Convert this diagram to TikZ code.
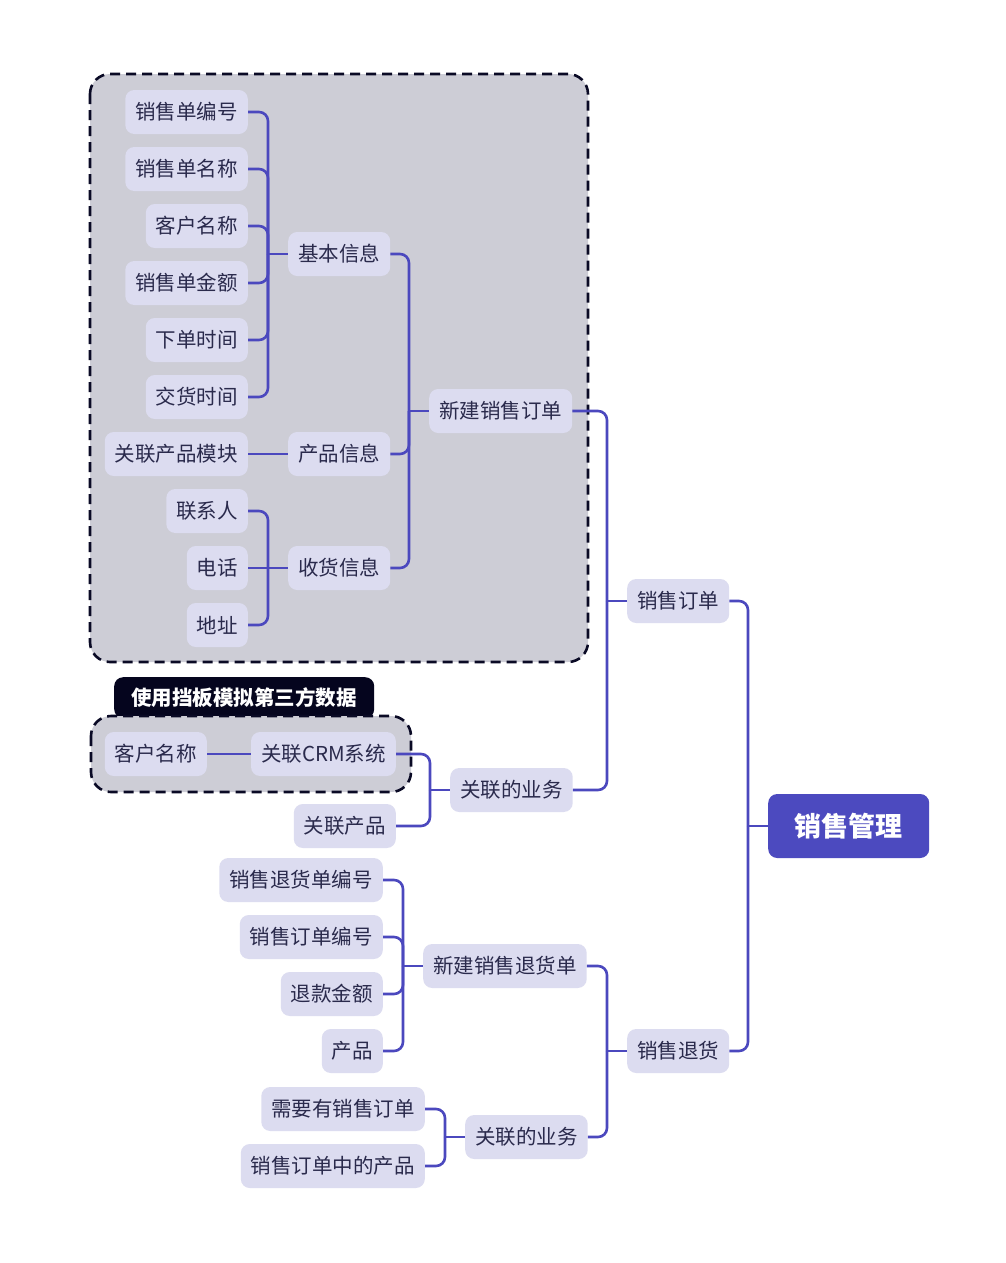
\documentclass[tikz,border=0pt]{standalone}
\usepackage{fontspec}
\setmainfont{Noto Sans CJK SC}
\usetikzlibrary{calc}
\definecolor{lnk}{HTML}{4B48BE}
\definecolor{nodefill}{HTML}{DCDCF0}
\definecolor{txt}{HTML}{2A2A4C}
\definecolor{grpfill}{HTML}{CDCDD6}
\definecolor{dashc}{HTML}{0A0A25}
\definecolor{rootfill}{HTML}{4C4ABF}
\definecolor{tagfill}{HTML}{05051E}
\tikzset{
  leaf/.style={fill=nodefill, rounded corners=9, minimum height=44, inner xsep=10, inner ysep=0, text=txt, font=\fontsize{20.5}{24}\selectfont},
  link/.style={draw=lnk, line width=2.6, rounded corners=9},
  straight/.style={draw=lnk, line width=2.6},
  grp/.style={fill=grpfill, draw=dashc, line width=2.6, dash pattern=on 10 off 6, rounded corners=20},
  rootbox/.style={fill=rootfill, rounded corners=9, minimum height=64, minimum width=161, text=white, font=\fontsize{27}{30}\selectfont\bfseries},
  tagbox/.style={fill=tagfill, rounded corners=9, minimum height=41, inner xsep=14, inner ysep=0, text=white, font=\fontsize{20.5}{24}\selectfont\bfseries}
}
\begin{document}
\begin{tikzpicture}[x=1pt,y=-1pt]
\useasboundingbox[fill=white] (0,0) rectangle (1005,1263);
% group boxes
\path[grp] (90,74) rectangle (588,662);
\node[tagbox, anchor=north west, minimum width=260] (tag) at (114,677) {使用挡板模拟第三方数据};
\path[grp] (91,716) rectangle (411,792);
% root
\node[rootbox, anchor=west] (root) at (768,826) {销售管理};
% level 1
\node[leaf, anchor=west] (xsdd) at (627,601) {销售订单};
\node[leaf, anchor=west] (xsth) at (627,1051) {销售退货};
% level 2
\node[leaf, anchor=west] (xjdd) at (429,411) {新建销售订单};
\node[leaf, anchor=west] (glyw1) at (450,790) {关联的业务};
\node[leaf, anchor=west] (xjth) at (423,966) {新建销售退货单};
\node[leaf, anchor=west] (glyw2) at (465,1137) {关联的业务};
% level 3 under 新建销售订单
\node[leaf, anchor=west] (jbxx) at (288,254) {基本信息};
\node[leaf, anchor=west] (cpxx) at (288,454) {产品信息};
\node[leaf, anchor=west] (shxx) at (288,568) {收货信息};
% leaves of 基本信息
\node[leaf, anchor=east] (a1) at (248,112) {销售单编号};
\node[leaf, anchor=east] (a2) at (248,169) {销售单名称};
\node[leaf, anchor=east] (a3) at (248,226) {客户名称};
\node[leaf, anchor=east] (a4) at (248,283) {销售单金额};
\node[leaf, anchor=east] (a5) at (248,340) {下单时间};
\node[leaf, anchor=east] (a6) at (248,397) {交货时间};
\node[leaf, anchor=east] (b1) at (248,454) {关联产品模块};
\node[leaf, anchor=east] (c1) at (248,511) {联系人};
\node[leaf, anchor=east] (c2) at (248,568) {电话};
\node[leaf, anchor=east] (c3) at (248,625) {地址};
% under 关联的业务 1
\node[leaf, anchor=east] (crm) at (396,754) {关联CRM系统};
\node[leaf, anchor=east] (khmc) at (207,754) {客户名称};
\node[leaf, anchor=east] (glcp) at (396,826) {关联产品};
% under 新建销售退货单
\node[leaf, anchor=east] (d1) at (383,880) {销售退货单编号};
\node[leaf, anchor=east] (d2) at (383,937) {销售订单编号};
\node[leaf, anchor=east] (d3) at (383,994) {退款金额};
\node[leaf, anchor=east] (d4) at (383,1051) {产品};
% under 关联的业务 2
\node[leaf, anchor=east] (e1) at (425,1109) {需要有销售订单};
\node[leaf, anchor=east] (e2) at (425,1166) {销售订单中的产品};
% bus coordinates
\foreach \p in {root,xsdd,xsth,xjdd,glyw1,xjth,glyw2,jbxx,shxx}{
  \coordinate (\p-bus) at ($(\p.west)+(-20,0)$);
  \draw[straight] (\p-bus) -- (\p.west);
}
% links with bends
\foreach \c/\p in {xsdd/root,xsth/root,xjdd/xsdd,glyw1/xsdd,xjth/xsth,glyw2/xsth,
  jbxx/xjdd,cpxx/xjdd,shxx/xjdd,a1/jbxx,a2/jbxx,a3/jbxx,a4/jbxx,a5/jbxx,a6/jbxx,
  c1/shxx,c3/shxx,crm/glyw1,glcp/glyw1,
  d1/xjth,d2/xjth,d3/xjth,d4/xjth,e1/glyw2,e2/glyw2}{
  \draw[link] (\c.east) -| (\p-bus);
}
% straight links (same height)
\draw[straight] (b1.east) -- (cpxx.west);
\draw[straight] (c2.east) -- (shxx-bus);
\draw[straight] (khmc.east) -- (crm.west);
\end{tikzpicture}
\end{document}
